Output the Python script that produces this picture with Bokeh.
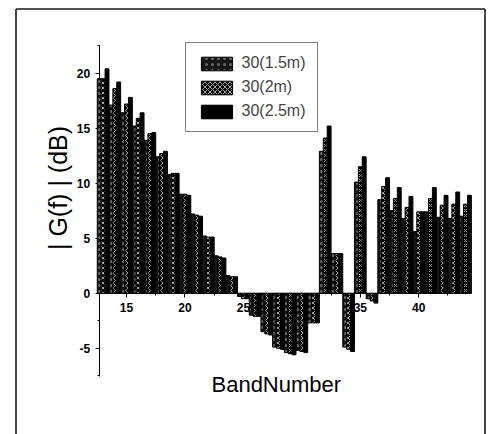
from math import pi
from bokeh.plotting import figure
from bokeh.models import ColumnDataSource, Range1d, SingleIntervalTicker, CustomJSTickFormatter
from bokeh.transform import dodge
from bokeh.core.properties import value
from bokeh.embed import file_html
from bokeh.resources import INLINE

# ---------------- data ----------------
bands = [13, 14, 15, 16, 17, 18, 19, 20, 21, 22, 23, 24, 25, 26, 27, 28,
         29, 30, 31, 32, 33, 34, 35, 36, 37, 38, 39, 40, 41, 42, 43, 44]
g_15m = [19.5, 17.1, 16.4, 15.2, 13.9, 12.4, 10.8, 9.0, 7.2, 5.2, 3.4, 1.6,
         -0.3, -2.0, -3.5, -4.9, -5.4, -5.2, -2.7, 12.9, 3.6, -4.9, 10.1, -0.5,
         8.5, 7.5, 6.8, 5.6, 7.4, 6.9, 6.8, 7.0]
g_2m = [19.5, 18.6, 17.2, 15.9, 14.5, 12.7, 10.9, 9.0, 7.1, 5.1, 3.3, 1.5,
        -0.5, -2.1, -3.7, -5.0, -5.5, -5.3, -2.7, 14.1, 3.6, -5.1, 11.5, -0.7,
        9.7, 8.6, 7.8, 7.4, 8.6, 8.0, 8.1, 8.1]
g_25m = [20.4, 19.2, 17.8, 16.4, 14.6, 12.9, 10.9, 8.9, 7.0, 5.1, 3.2, 1.5,
         -0.5, -2.1, -3.8, -5.1, -5.6, -5.4, -2.7, 15.2, 3.6, -5.3, 12.4, -0.9,
         10.5, 9.6, 8.8, 7.4, 9.6, 8.9, 9.2, 8.9]
series_labels = ["30(1.5m)", "30(2m)", "30(2.5m)"]
x_axis_bounds = (12.665, 44.5)
y_axis_bounds = (-7.6, 22.5)
x_title = "BandNumber"
y_title = "| G(f) | (dB)"

# ---------------- layout constants (canvas pixels) ----------------
W, H = 489, 434
PX_X, PX_Y = 11.69, 11.0          # pixels per data unit
X0 = 15 - 126 / PX_X              # data x at left canvas edge
Y1 = 292.7 / PX_Y                 # data y at top canvas edge
Y0 = Y1 - H / PX_Y


def cx(px):
    return X0 + px / PX_X


def cy(py):
    return Y1 - py / PX_Y


src = ColumnDataSource(dict(band=bands, a=g_15m, b=g_2m, c=g_25m))

p = figure(width=W, height=H,
           x_range=Range1d(X0, X0 + W / PX_X),
           y_range=Range1d(Y0, Y1),
           output_backend="svg", toolbar_location=None, min_border=0)
p.outline_line_color = None
p.xgrid.visible = False
p.ygrid.visible = False
p.background_fill_color = "white"

# outer picture frame (left, top, right) as three separate edges
p.segment(x0=[cx(15.5), cx(15.5), cx(484.5)],
          y0=[cy(H + 5), cy(8.5), cy(8.5)],
          x1=[cx(15.5), cx(484.5), cx(484.5)],
          y1=[cy(8.5), cy(8.5), cy(H + 5)],
          line_color="#1a1a1a", line_width=1.6)

bw = 1 / 3
p.vbar(x=dodge("band", -bw, range=p.x_range), top="a", bottom=0, width=bw, source=src,
       fill_color="#161616", hatch_pattern="dot", hatch_color="#6a6a6a",
       hatch_scale=6, hatch_weight=1, line_color="black", line_width=1,
       legend_label=series_labels[0])
p.vbar(x=dodge("band", 0, range=p.x_range), top="b", bottom=0, width=bw, source=src,
       fill_color="black", hatch_pattern="diagonal_cross", hatch_color="#cccccc",
       hatch_scale=5, hatch_weight=0.8, line_color="black", line_width=1,
       legend_label=series_labels[1])
p.vbar(x=dodge("band", bw, range=p.x_range), top="c", bottom=0, width=bw, source=src,
       fill_color="black", line_color="black", line_width=1,
       legend_label=series_labels[2])

# axes crossing inside the frame
for ax in (p.xaxis[0], p.yaxis[0]):
    ax.ticker = SingleIntervalTicker(interval=5, num_minor_ticks=2)
    ax.formatter = CustomJSTickFormatter(code="return String(tick)")
    ax.axis_line_color = "black"
    ax.axis_line_width = 1
    ax.major_tick_in = 0
    ax.major_tick_out = 4
    ax.minor_tick_in = 0
    ax.minor_tick_out = 2
    ax.major_tick_line_color = "black"
    ax.minor_tick_line_color = "black"
    ax.major_label_text_font = "Liberation Sans"
    ax.major_label_text_font_style = "bold"
    ax.major_label_text_font_size = "12px"
    ax.major_label_text_color = "black"
    ax.level = "underlay"

p.xaxis.fixed_location = 0
p.xaxis.bounds = x_axis_bounds
p.xaxis.major_label_standoff = 6
p.yaxis.fixed_location = x_axis_bounds[0]
p.yaxis.bounds = y_axis_bounds
p.yaxis.major_label_standoff = 5

# axis titles
p.text(x=[cx(275.8)], y=[cy(384)], text=[x_title],
       text_font=value("Liberation Sans"), text_font_size="22px",
       text_align="center", text_baseline="middle", text_color="black")
p.text(x=[cx(57)], y=[cy(187.5)], text=[y_title],
       angle=pi / 2, text_font=value("Liberation Sans"), text_font_size="25px",
       text_align="center", text_baseline="middle", text_color="black")

# legend
lg = p.legend[0]
lg.location = (184.5, 301.7)
lg.border_line_color = "black"
lg.border_line_width = 1
lg.background_fill_color = "white"
lg.background_fill_alpha = 1
lg.label_text_font = "Liberation Sans"
lg.label_text_font_size = "16px"
lg.glyph_width = 39
lg.glyph_height = 17
lg.label_height = 17
lg.label_standoff = 6
lg.spacing = 6
lg.padding = 11
lg.margin = 0

open("out.html", "w").write(file_html(p, INLINE))
